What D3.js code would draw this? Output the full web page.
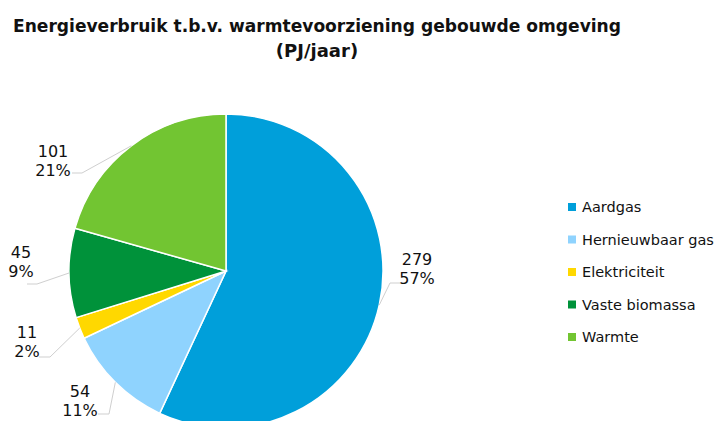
<!DOCTYPE html>
<html>
<head>
<meta charset="utf-8">
<script src="https://cdn.jsdelivr.net/npm/d3@7"></script>
<style>
  body { margin: 0; background: #fff; }
  svg { display: block; font-family: "DejaVu Sans", sans-serif; }
</style>
</head>
<body>
<svg width="719" height="421"></svg>
<script>
var categories = ["Aardgas", "Hernieuwbaar gas", "Elektriciteit", "Vaste biomassa", "Warmte"];
var values = [279, 54, 11, 45, 101];
var colors = ["#009fda", "#8fd3fe", "#ffd800", "#00923a", "#72c532"];

// label placement relative to the pie centre (Excel "best fit" style)
var labelLayout = [
  { tx: 191, ty: -6,  ex: 164, ey: 12,  hx: 174 },
  { tx: -146, ty: 126, ex: -117, ey: 143, hx: -128 },
  { tx: -199, ty: 67,  ex: -176, ey: 86,  hx: -187 },
  { tx: -205, ty: -13, ex: -189, ey: 13,  hx: -199 },
  { tx: -173, ty: -114, ex: -144, ey: -98, hx: -154 }
];

var svg = d3.select("svg");
var width = 719, height = 421;
var cx = 226, cy = 271, radius = 157;

svg.append("rect").attr("width", width).attr("height", height).attr("fill", "#fff");

// title
var title = svg.append("g").attr("font-weight", "bold").attr("fill", "#111")
  .attr("text-anchor", "middle").attr("font-size", 18);
title.append("text").attr("x", 317).attr("y", 32)
  .attr("textLength", 608).attr("lengthAdjust", "spacingAndGlyphs")
  .text("Energieverbruik t.b.v. warmtevoorziening gebouwde omgeving");
title.append("text").attr("x", 317).attr("y", 57).text("(PJ/jaar)");

var data = categories.map(function(c, i) { return { name: c, value: values[i], color: colors[i], layout: labelLayout[i] }; });
var total = d3.sum(values);
var pct = d3.format(".0%");

var pie = d3.pie().sort(null).value(function(d) { return d.value; });
var arc = d3.arc().innerRadius(0).outerRadius(radius);
var edge = d3.arc().innerRadius(radius).outerRadius(radius);

var arcs = pie(data);

var g = svg.append("g").attr("transform", "translate(" + cx + "," + cy + ")");

g.selectAll("path.slice")
  .data(arcs)
  .enter().append("path")
  .attr("class", "slice")
  .attr("d", arc)
  .attr("fill", function(d) { return d.data.color; })
  .attr("stroke", "#fff")
  .attr("stroke-width", 1.5);

// leader lines
g.selectAll("polyline")
  .data(arcs)
  .enter().append("polyline")
  .attr("fill", "none")
  .attr("stroke", "#cfcfcf")
  .attr("stroke-width", 1)
  .attr("points", function(d) {
    var p = edge.centroid(d), l = d.data.layout;
    return [p, [l.ex, l.ey], [l.hx, l.ey]].map(function(q) { return q.join(","); }).join(" ");
  });

// data labels
var labels = g.selectAll("text.lbl")
  .data(arcs)
  .enter().append("text")
  .attr("class", "lbl")
  .attr("text-anchor", "middle")
  .attr("font-size", 16)
  .attr("fill", "#111");
labels.append("tspan")
  .attr("x", function(d) { return d.data.layout.tx; })
  .attr("y", function(d) { return d.data.layout.ty; })
  .text(function(d) { return d.data.value; });
labels.append("tspan")
  .attr("x", function(d) { return d.data.layout.tx; })
  .attr("y", function(d) { return d.data.layout.ty + 19; })
  .text(function(d) { return pct(d.data.value / total); });

// legend
var legendY = d3.scalePoint().domain(categories).range([207, 337]);
var legend = svg.append("g").selectAll("g")
  .data(data)
  .enter().append("g")
  .attr("transform", function(d) { return "translate(568," + legendY(d.name) + ")"; });
legend.append("rect")
  .attr("x", 0).attr("y", -4)
  .attr("width", 8).attr("height", 8)
  .attr("fill", function(d) { return d.color; });
legend.append("text")
  .attr("x", 14).attr("y", 5)
  .attr("font-size", 14.5)
  .attr("fill", "#111")
  .text(function(d) { return d.name; });
</script>
</body>
</html>
